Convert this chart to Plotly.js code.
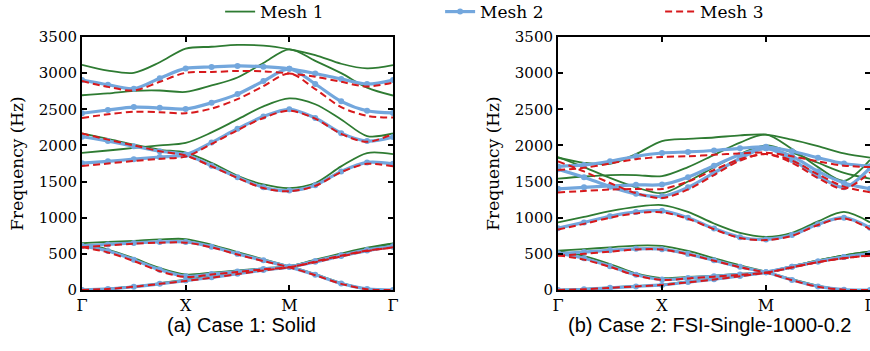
<!DOCTYPE html>
<html><head><meta charset="utf-8">
<script src="https://cdn.plot.ly/plotly-3.0.1.min.js"></script>
<style>html,body{margin:0;padding:0;background:#fff}</style>
</head><body><div id="chart" style="width:870px;height:351px"></div>
<script>
// reduced wave-vector path coordinate (Γ=0, X=1, M=2, Γ=3)
const kPath = [0,0.25,0.5,0.75,1,1.25,1.5,1.75,2,2.25,2.5,2.75,3];
const pathTickVals = [0,1,2,3];
const pathTickLabels = ['Γ','X','M','Γ'];
const freqTicks = [0,500,1000,1500,2000,2500,3000,3500];
const meshNames = ['Mesh 1','Mesh 2','Mesh 3'];
const captions = ['(a) Case 1: Solid','(b) Case 2: FSI-Single-1000-0.2'];

// Case 1: Solid — frequency (Hz) of each band along the path
const case1Mesh1 = [
 [0,20,50,95,145,190,235,285,330,405,490,570,640],
 [640,560,440,305,215,240,270,300,330,420,505,585,645],
 [648,665,680,700,705,625,525,425,330,220,100,20,0],
 [2167,2090,2010,1940,1900,1760,1580,1460,1410,1480,1710,1895,1880],
 [1898,1930,1965,2000,2035,2180,2360,2540,2650,2570,2360,2130,2165],
 [2694,2720,2755,2760,2740,2830,2940,3140,3330,3170,3000,2800,2690],
 [3115,3035,3005,3150,3340,3365,3390,3380,3330,3250,3130,3065,3110]
];
const case1Mesh2 = [
 [0,15,45,85,130,175,225,275,320,390,470,545,605],
 [610,540,420,280,190,220,255,290,320,400,480,555,600],
 [610,630,650,665,665,600,500,410,320,210,90,15,0],
 [2120,2060,1990,1920,1870,1720,1560,1420,1375,1450,1640,1765,1745],
 [1755,1780,1810,1840,1870,2040,2230,2400,2500,2380,2170,2060,2115],
 [2445,2490,2530,2520,2505,2590,2710,2890,3060,2850,2610,2480,2450],
 [2905,2840,2785,2930,3065,3085,3100,3090,3060,2995,2920,2850,2905]
];
const case1Mesh3 = [
 [0,15,45,85,125,170,220,270,315,385,465,540,590],
 [590,520,400,260,180,215,250,285,315,395,475,545,585],
 [590,615,640,655,655,590,490,400,315,205,85,10,0],
 [2165,2080,2000,1920,1860,1710,1550,1410,1365,1440,1630,1745,1710],
 [1715,1750,1785,1815,1845,2020,2210,2380,2480,2370,2160,2050,2160],
 [2380,2430,2465,2460,2445,2510,2640,2820,2995,2780,2530,2410,2385],
 [2890,2810,2760,2880,3005,3015,3030,3025,2995,2950,2880,2815,2870]
];

// Case 2: FSI-Single-1000-0.2
const case2Mesh1 = [
 [0,15,35,55,75,120,160,205,250,330,410,480,535],
 [540,470,360,230,165,180,200,225,250,330,410,480,530],
 [545,565,590,615,610,540,440,340,255,150,60,5,0],
 [935,1010,1090,1150,1175,1080,920,790,735,790,950,1080,935],
 [1840,1700,1550,1420,1340,1500,1700,1880,2000,1900,1760,1620,1540],
 [1540,1570,1590,1590,1575,1700,1870,2040,2150,1950,1700,1510,1800],
 [1830,1760,1745,1880,2060,2090,2110,2140,2150,2080,1990,1890,1830]
];
const case2Mesh2 = [
 [0,10,30,50,70,110,150,195,245,320,395,455,500],
 [510,440,330,210,145,165,190,215,245,320,395,455,505],
 [505,525,550,570,565,500,410,320,245,140,50,5,0],
 [855,935,1020,1080,1095,1000,850,730,700,760,910,1000,860],
 [1670,1560,1430,1330,1296,1420,1620,1820,1960,1800,1580,1420,1690],
 [1400,1420,1440,1455,1458,1560,1720,1870,1960,1850,1640,1480,1400],
 [1710,1730,1780,1850,1895,1910,1930,1960,1980,1920,1830,1750,1713]
];
const case2Mesh3 = [
 [0,10,30,50,70,105,145,190,240,310,385,440,475],
 [480,420,320,200,140,160,185,210,240,315,385,440,480],
 [475,500,530,560,560,495,405,315,240,135,45,5,0],
 [835,915,1000,1060,1075,985,840,720,690,750,900,990,840],
 [1780,1640,1480,1340,1273,1390,1590,1790,1880,1760,1550,1400,1630],
 [1350,1370,1390,1398,1398,1500,1660,1810,1880,1790,1600,1430,1352],
 [1660,1690,1750,1810,1840,1850,1870,1890,1900,1850,1780,1720,1700]
];

const meshStyles = [
  {mode:'lines', line:{color:'#2e7b32', width:1.8, shape:'spline', smoothing:0.9}},
  {mode:'lines+markers', line:{color:'#73a7dd', width:3.2, shape:'spline', smoothing:0.9},
   marker:{symbol:'circle', size:6, color:'#73a7dd'}},
  {mode:'lines', line:{color:'#d7191c', width:2, dash:'7px,4px', shape:'spline', smoothing:0.9}}
];

const cases = [
  {meshes:[case1Mesh1, case1Mesh2, case1Mesh3], xa:'x', ya:'y'},
  {meshes:[case2Mesh1, case2Mesh2, case2Mesh3], xa:'x2', ya:'y2'}
];

const traces = [];
for (let m = 0; m < 3; m++) {
  cases.forEach((c, ci) => {
    c.meshes[m].forEach((band, bi) => {
      const st = meshStyles[m];
      const tr = {
        type:'scatter', x:kPath, y:band, xaxis:c.xa, yaxis:c.ya,
        name:meshNames[m], legendgroup:meshNames[m],
        showlegend:(ci === 0 && bi === 0),
        mode:st.mode, line:Object.assign({}, st.line), hoverinfo:'skip'
      };
      if (st.marker) tr.marker = Object.assign({}, st.marker);
      traces.push(tr);
    });
  });
}

const serif = 'DejaVu Serif, Liberation Serif, serif';
const xBase = {
  range:[0,3], tickvals:pathTickVals, ticktext:pathTickLabels, automargin:false,
  ticklabeloverflow:'allow',
  showline:true, mirror:'ticks', linecolor:'#000', linewidth:2,
  ticks:'inside', ticklen:5, tickwidth:2, tickcolor:'#000',
  showgrid:false, zeroline:false, fixedrange:true,
  tickfont:{family:serif, size:16, color:'#000'}
};
const yBase = {
  range:[0,3500], tickvals:freqTicks, automargin:false,
  showline:true, mirror:'ticks', linecolor:'#000', linewidth:2,
  ticks:'inside', ticklen:5, tickwidth:2, tickcolor:'#000',
  showgrid:false, zeroline:false, fixedrange:true,
  tickfont:{family:serif, size:15, color:'#000'},
  title:{text:'Frequency (Hz)', font:{family:serif, size:17, color:'#000'}, standoff:11}
};

const layout = {
  width:870, height:351,
  margin:{l:0, r:0, t:0, b:0, autoexpand:false},
  paper_bgcolor:'#fff', plot_bgcolor:'#fff',
  xaxis:Object.assign({}, xBase, {domain:[0.09425, 0.45172], anchor:'y'}),
  yaxis:Object.assign({}, yBase, {domain:[0.17379, 0.89459], anchor:'x'}),
  xaxis2:Object.assign({}, xBase, {domain:[0.64138, 1], anchor:'y2'}),
  yaxis2:Object.assign({}, yBase, {domain:[0.17379, 0.89459], anchor:'x2'}),
  showlegend:true,
  legend:{orientation:'h', x:0.253, xanchor:'left', y:1.017, yanchor:'top',
    entrywidth:175, entrywidthmode:'pixels',
    font:{family:serif, size:17, color:'#000'}, bgcolor:'rgba(0,0,0,0)', borderwidth:0},
  annotations:[
    {text:captions[0], xref:'paper', yref:'paper', x:0.278, y:0.074, xanchor:'center', yanchor:'middle',
     showarrow:false, font:{family:'Liberation Sans, DejaVu Sans, sans-serif', size:20, color:'#000'}},
    {text:captions[1], xref:'paper', yref:'paper', x:0.815, y:0.074, xanchor:'center', yanchor:'middle',
     showarrow:false, font:{family:'Liberation Sans, DejaVu Sans, sans-serif', size:20, color:'#000'}}
  ]
};

Plotly.newPlot('chart', traces, layout, {staticPlot:true, displayModeBar:false});
</script></body></html>
